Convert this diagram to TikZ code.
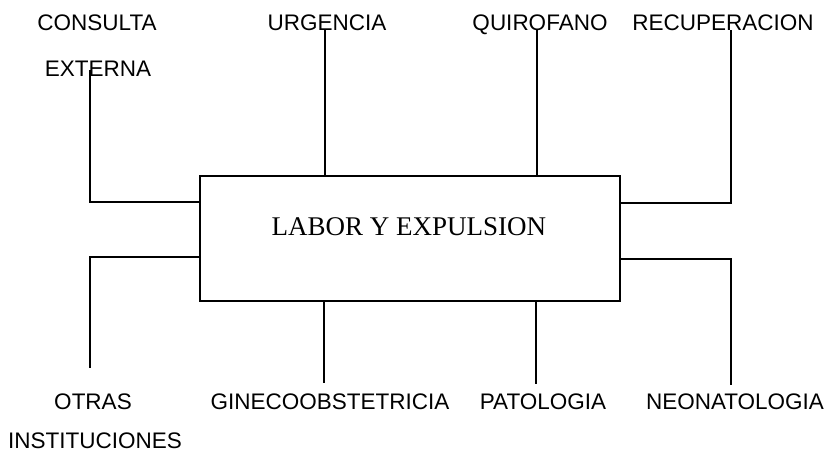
\documentclass[tikz,border=0pt]{standalone}
\usepackage{fontspec}
\setmainfont{Liberation Sans}
\newfontfamily\boxfont{Liberation Serif}
\usetikzlibrary{calc}
\tikzset{
    area/.style={inner sep=0pt,anchor=base,font=\fontsize{11.25}{13}\selectfont},
    link/.style={line width=1pt}
}

\begin{document}
\begin{tikzpicture}[x=0.5pt,y=-0.5pt]
\useasboundingbox (0,0) rectangle (827,451);
\node[draw,line width=1pt,minimum width=210pt,minimum height=62.5pt,inner sep=0pt] (lab) at (410,238.5){};
\node[inner sep=0pt,anchor=base,font=\boxfont\fontsize{13.5}{16}\selectfont] (labtxt) at (409,235){LABOR Y EXPULSION};
% arriba
\node[area] (con) at (97,30){CONSULTA};
\node[area] (ext) at (98,76){EXTERNA};
\node[area] (urg) at (327,30){URGENCIA};
\node[area] (qui) at (540,30){QUIROFANO};
\node[area] (rec) at (723,30){RECUPERACION};
% abajo
\node[area] (otr) at (93,409){OTRAS};
\node[area] (ins) at (95,448){INSTITUCIONES};
\node[area] (gin) at (330,409){GINECOOBSTETRICIA};
\node[area] (pat) at (543,409){PATOLOGIA};
\node[area] (neo) at (735,409){NEONATOLOGIA};
% extremos libres de las lineas
\coordinate (extT) at (90,70);
\coordinate (urgT) at (325,30);
\coordinate (quiT) at (537,30);
\coordinate (recT) at (731,30);
\coordinate (otrB) at (90,368);
\coordinate (ginB) at (324,383);
\coordinate (patB) at (536,384);
\coordinate (neoB) at (731,385);
\draw[link] (extT) -- ($(extT)+(0,132)$) -- (lab.west |- {$(extT)+(0,132)$});
\draw[link] (urgT) -- (urgT |- lab.north);
\draw[link] (quiT) -- (quiT |- lab.north);
\draw[link] (recT) -- ($(recT)+(0,173)$) -- (lab.east |- {$(recT)+(0,173)$});
\draw[link] (lab.west |- 0,257) -- (otrB |- 0,257) -- (otrB);
\draw[link] (ginB |- lab.south) -- (ginB);
\draw[link] (patB |- lab.south) -- (patB);
\draw[link] (lab.east |- 0,259) -- (neoB |- 0,259) -- (neoB);
\end{tikzpicture}
\end{document}
